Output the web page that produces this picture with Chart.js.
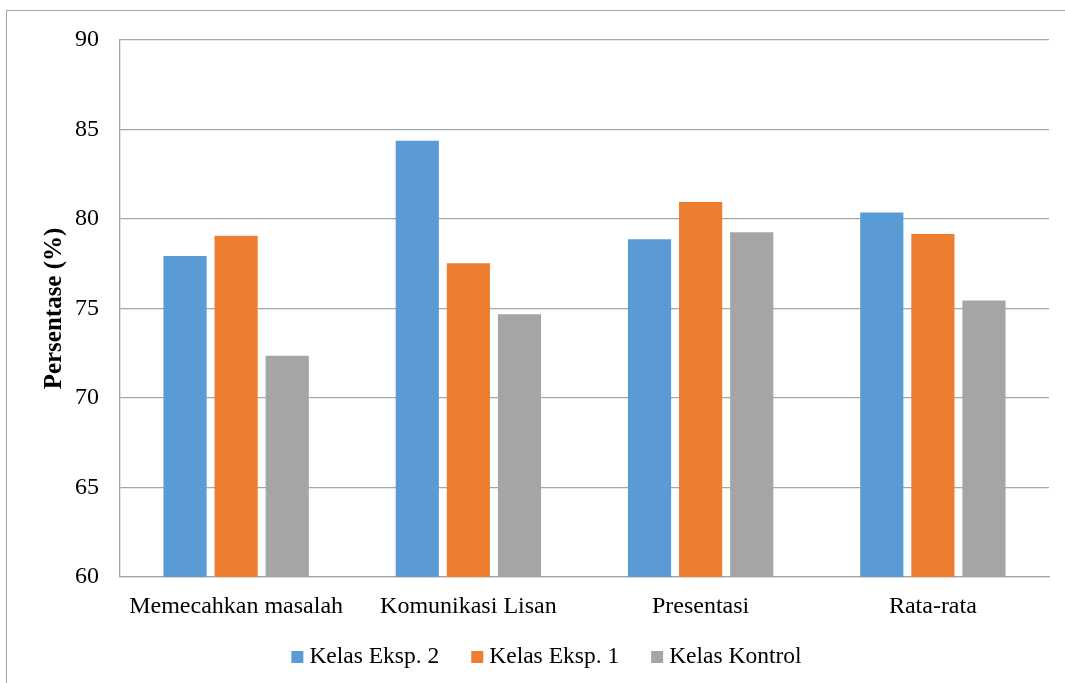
<!DOCTYPE html>
<html>
<head>
<meta charset="utf-8">
<title>Persentase keterampilan</title>
<script src="https://cdn.jsdelivr.net/npm/chart.js@4.4.1/dist/chart.umd.min.js"></script>
<style>
  html, body { margin: 0; padding: 0; background: #fff; }
  #wrap { position: relative; width: 1065px; height: 683px; overflow: hidden; }
  #frame { position: absolute; left: 6px; top: 10px; width: 2000px; height: 2000px;
           border-left: 1px solid #a6a6a6; border-top: 1px solid #a6a6a6; }
  canvas { position: absolute; left: 0; top: 0; }
</style>
</head>
<body>
<div id="wrap">
  <div id="frame"></div>
  <canvas id="c" width="1065" height="683"></canvas>
</div>
<script>
// Categories and series
const categories = ['Memecahkan masalah', 'Komunikasi Lisan', 'Presentasi', 'Rata-rata'];
const seriesNames = ['Kelas Eksp. 2', 'Kelas Eksp. 1', 'Kelas Kontrol'];
const eksp2   = [77.93, 84.37, 78.87, 80.37];
const eksp1   = [79.07, 77.53, 80.95, 79.16];
const kontrol = [72.36, 74.68, 79.26, 75.44];
const yTicks  = [60, 65, 70, 75, 80, 85, 90];
const seriesColors = ['#5B9BD5', '#ED7D31', '#A5A5A5'];

const FONT = "'Liberation Serif', 'Times New Roman', serif";
const GRID = '#a6a6a6';

// Legend drawn centred below the axis labels
const bottomLegend = {
  id: 'bottomLegend',
  afterDraw(chart) {
    const ctx = chart.ctx;
    const box = 12, gap = 6, itemGap = 32;
    ctx.save();
    ctx.font = '23.5px ' + FONT;
    ctx.textBaseline = 'alphabetic';
    ctx.textAlign = 'left';
    const items = chart.data.datasets.map(d => ({
      label: d.label, color: d.backgroundColor,
      w: box + gap + ctx.measureText(d.label).width
    }));
    const total = items.reduce((s, it) => s + it.w, 0) + itemGap * (items.length - 1);
    let x = chart.width / 2 + 14 - total / 2;
    const baseline = 663;
    items.forEach(it => {
      ctx.fillStyle = it.color;
      ctx.fillRect(x, baseline - 12, box, box);
      ctx.fillStyle = '#000';
      ctx.fillText(it.label, x + box + gap, baseline);
      x += it.w + itemGap;
    });
    ctx.restore();
  }
};

new Chart(document.getElementById('c'), {
  type: 'bar',
  data: {
    labels: categories,
    datasets: [
      { label: seriesNames[0], data: eksp2,   backgroundColor: seriesColors[0] },
      { label: seriesNames[1], data: eksp1,   backgroundColor: seriesColors[1] },
      { label: seriesNames[2], data: kontrol, backgroundColor: seriesColors[2] }
    ]
  },
  options: {
    responsive: false,
    animation: false,
    devicePixelRatio: 1,
    categoryPercentage: 0.66,
    barPercentage: 0.845,
    layout: { padding: { top: 40, right: 16, left: 0, bottom: 0 } },
    plugins: {
      legend: { display: false },
      tooltip: { enabled: false }
    },
    scales: {
      x: {
        grid: { display: false, drawTicks: false },
        border: { display: true, color: GRID, width: 1.3 },
        ticks: { color: '#000', font: { family: FONT, size: 24 }, padding: 15, maxRotation: 0 },
        afterFit(scale) { scale.height = 106; }
      },
      y: {
        min: 60,
        max: 90,
        afterBuildTicks(scale) { scale.ticks = yTicks.map(v => ({ value: v })); },
        grid: { color: GRID, lineWidth: 1.3, drawTicks: false },
        border: { display: true, color: GRID, width: 1.3 },
        ticks: { color: '#000', font: { family: FONT, size: 24 }, padding: 21 },
        title: {
          display: true,
          text: 'Persentase (%)',
          color: '#000',
          font: { family: FONT, size: 25, weight: 'bold' },
          padding: { top: 40, bottom: 0 }
        },
        afterFit(scale) { scale.width = 120; }
      }
    }
  },
  plugins: [bottomLegend]
});
</script>
</body>
</html>
